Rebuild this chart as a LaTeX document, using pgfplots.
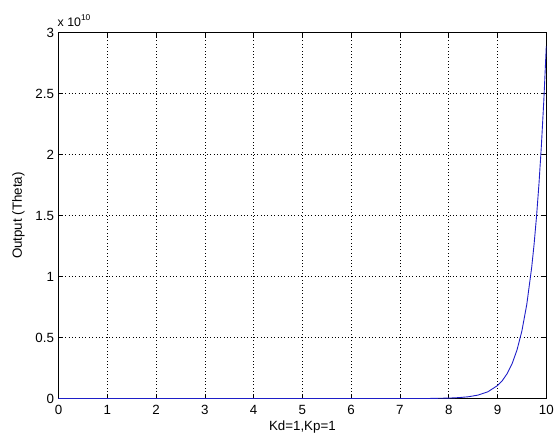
\documentclass[border=0pt]{standalone}
\usepackage{fontspec}
\setmainfont{Liberation Sans}
\usepackage{pgfplots}
\pgfplotsset{compat=1.18}
\begin{document}
\begin{tikzpicture}
\begin{axis}[
 name=ax,
 scale only axis, width=492bp, height=369bp,
 xmin=0, xmax=10, ymin=0, ymax=3e10,
 xtick={0,1,2,3,4,5,6,7,8,9,10},
 ytick={0,5e9,1e10,1.5e10,2e10,2.5e10,3e10},
 scaled y ticks=base 10:-10,
 ytick scale label code/.code={x 10\raisebox{5.5bp}{\fontsize{8.5}{10}\selectfont 10}},
 every y tick scale label/.style={at={(rel axis cs:0,1)}, anchor=south west, inner sep=0pt, yshift=6bp, font=\fontsize{12.5}{14}\selectfont},
 grid=major,
 major grid style={black, dash pattern=on 0.8bp off 2.6bp, line width=0.6bp},
 tick align=inside,
 major tick length=5bp,
 tick style={black, line width=0.6bp},
 axis line style={black, line width=0.7bp},
 /pgf/number format/assume math mode=true,
 y tick label style={/pgf/number format/fixed, xshift=-1bp},
 x tick label style={yshift=-3.5bp},
 ticklabel style={font=\fontsize{13.5}{16}\selectfont},
 xlabel={Kd=1,Kp=1},
 ylabel={Output (Theta)},
 every axis x label/.style={at={([yshift=-32bp]rel axis cs:0.5,0)}, anchor=base, inner sep=0pt, font=\fontsize{13.5}{16}\selectfont},
 every axis y label/.style={at={([xshift=-34bp]rel axis cs:0,0.5)}, anchor=south, rotate=90, inner sep=0pt, font=\fontsize{13.5}{16}\selectfont},
]
\addplot[color={rgb,255:red,30;green,30;blue,200}, line width=0.9bp] coordinates {
 (0,0) (1,0) (2,0) (3,0) (4,0) (5,0) (6,0) (7,0) (7.5,0) (8,0.0039e10)
 (8.2,0.0076e10) (8.4,0.0147e10) (8.6,0.0285e10) (8.8,0.0551e10)
 (9.0,0.1066e10) (9.1,0.148e10) (9.2,0.206e10) (9.3,0.287e10)
 (9.4,0.399e10) (9.5,0.555e10) (9.6,0.772e10) (9.7,1.074e10)
 (9.75,1.266e10) (9.8,1.494e10) (9.85,1.762e10) (9.9,2.078e10)
 (9.95,2.450e10) (10,2.89e10)
};
\end{axis}
\path ([xshift=-59bp,yshift=-43bp]ax.south west) rectangle ([xshift=6bp,yshift=33bp]ax.north east);
\end{tikzpicture}
\end{document}
